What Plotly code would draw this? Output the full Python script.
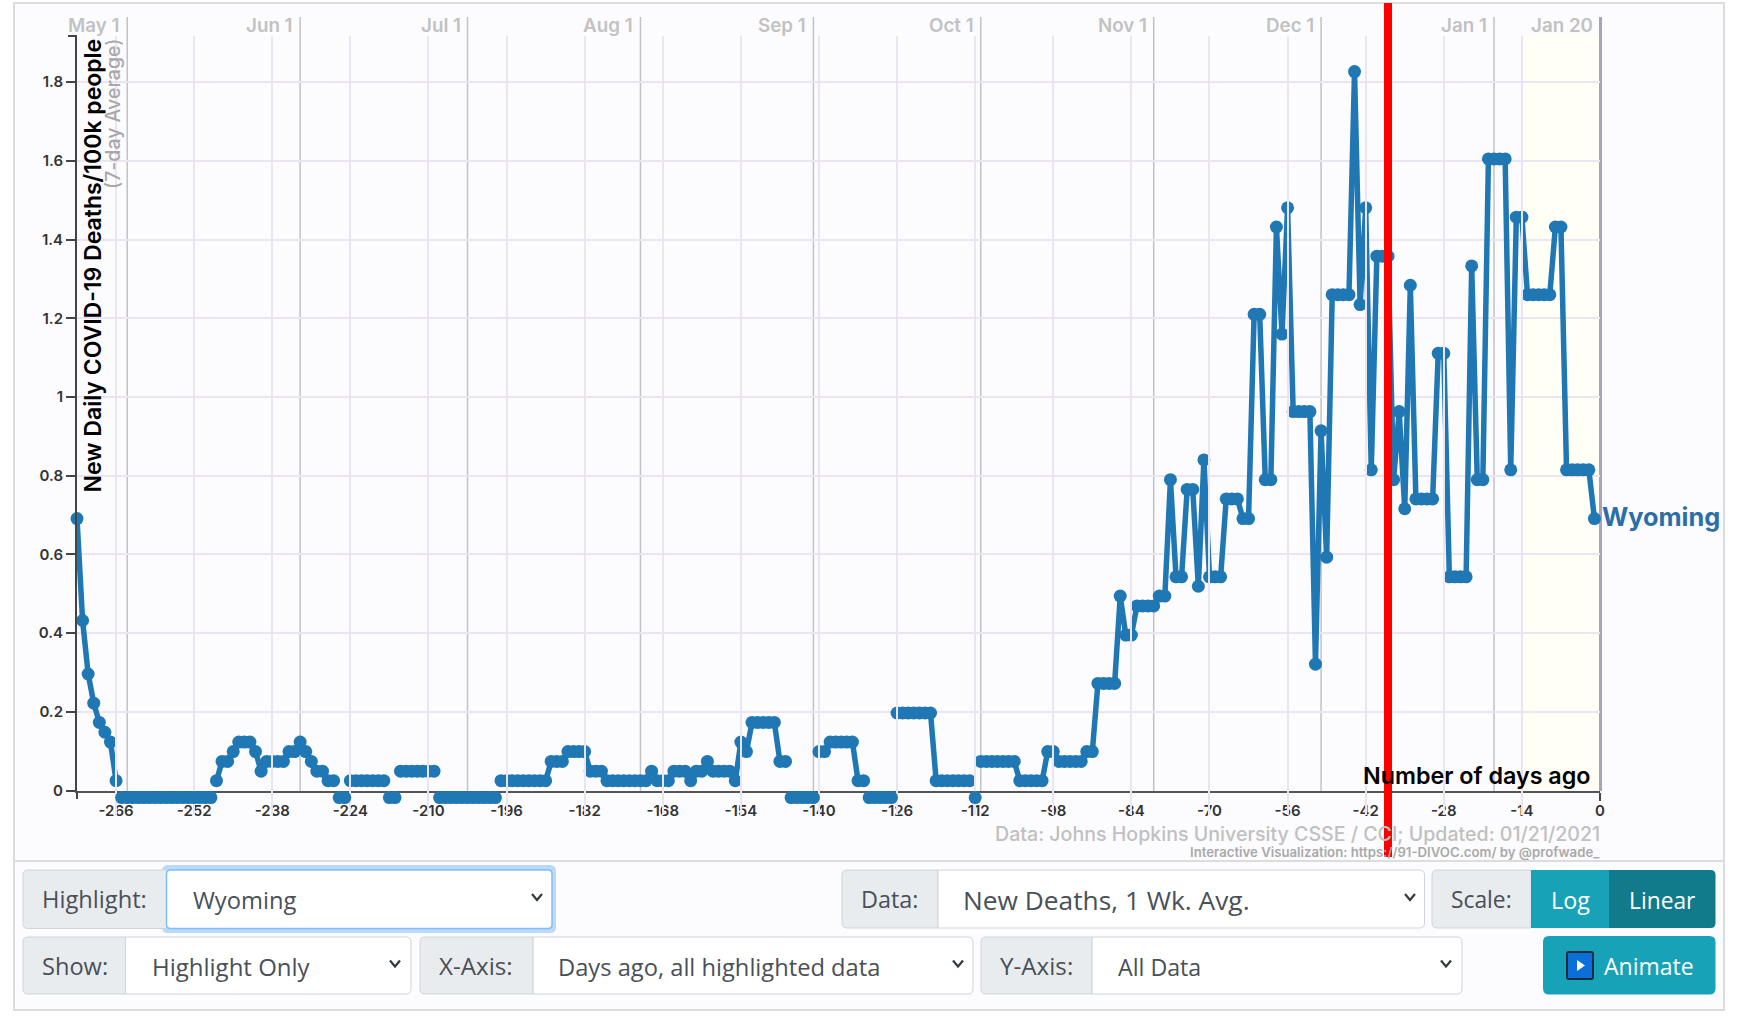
import plotly.graph_objects as go

W, H = 1739, 1018
N = None
first_day = -273
# 7-day average deaths/100k, one value per day from day -273 to day -1. None = zero day (drawn below axis)
values = [
 .691,.432,.296,.222,.173,.148,.123,.025,                       # -273
 N,N,N,N,N,N,N,N,N,N,N,N,N,N,N,N,N,                             # -265
 .025,.074,.074,.099,.123,.123,.123,.099,.049,.074,.074,.074,.074,.099,.099,.123,.099,.074,.049,.049,.025,.025,  # -248
 N,N,                                                           # -226
 .025,.025,.025,.025,.025,.025,.025,                            # -224
 N,N,                                                           # -217
 .049,.049,.049,.049,.049,.049,.049,                            # -215
 N,N,N,N,N,N,N,N,N,N,N,                                         # -208
 .025,.025,.025,.025,.025,.025,.025,.025,.025,                  # -197
 .074,.074,.074,.099,.099,.099,.099,.049,.049,.049,             # -188
 .025,.025,.025,.025,.025,.025,.025,.025,                       # -178
 .049,.025,.025,.025,.049,.049,.049,.025,.049,.049,.074,        # -170
 .049,.049,.049,.049,.025,.123,.099,                            # -159
 .173,.173,.173,.173,.173,.074,.074,                            # -152
 N,N,N,N,N,                                                     # -145
 .099,.099,.123,.123,.123,.123,.123,.025,.025,                  # -140
 N,N,N,N,N,                                                     # -131
 .197,.197,.197,.197,.197,.197,.197,                            # -126
 .025,.025,.025,.025,.025,.025,.025,                            # -119
 N,                                                             # -112
 .074,.074,.074,.074,.074,.074,.074,                            # -111
 .025,.025,.025,.025,.025,.099,.099,                            # -104
 .074,.074,.074,.074,.074,.099,.099,                            # -97
 .272,.272,.272,.272,.494,.395,.395,.469,.469,.469,.469,.494,.494,  # -90
 .79,.543,.543,.765,.765,.519,.84,.543,.543,.543,.741,.741,.741,.691,.691,  # -77
 1.21,1.21,.79,.79,1.432,1.16,1.481,.963,.963,.963,.963,.321,.914,.593,     # -62
 1.26,1.26,1.26,1.26,1.827,1.235,1.481,.815,1.358,1.358,1.358,.79,.963,.716,1.284,  # -48
 .741,.741,.741,.741,1.111,1.111,.543,.543,.543,.543,1.333,.79,.79,         # -33
 1.605,1.605,1.605,1.605,.815,1.457,1.457,1.26,1.26,1.26,1.26,1.26,1.432,1.432,  # -20
 .815,.815,.815,.815,.815,.691,                                 # -6
]
days = [first_day + i for i in range(len(values))]
assert days[-1] == -1, days[-1]
below_axis_value = -0.018
zero_days = [d for d, v in zip(days, values) if v is None]
zero_values = [below_axis_value for _ in zero_days]

x_ticks = [-266,-252,-238,-224,-210,-196,-182,-168,-154,-140,-126,-112,-98,-84,-70,-56,-42,-28,-14,0]
y_ticks = [0,.2,.4,.6,.8,1,1.2,1.4,1.6,1.8]
y_tick_labels = ["0","0.2","0.4","0.6","0.8","1","1.2","1.4","1.6","1.8"]
month_days = [-264,-233,-203,-172,-141,-111,-80,-50,-19,0]
month_labels = ["May 1","Jun 1","Jul 1","Aug 1","Sep 1","Oct 1","Nov 1","Dec 1","Jan 1","Jan 20"]

BLUE = "#1f77b4"
CHART_FONT = "Inter"
UI_FONT = "Open Sans"
BG = "#fcfcff"
GRID = "#ebe5f2"

def px(x): return x / W
def py(y): return 1 - y / H

shapes, annos = [], []

def rect(x0, y0, x1, y1, fill, line=None, lw=0, layer="below"):
    shapes.append(dict(type="rect", xref="paper", yref="paper", x0=px(x0), x1=px(x1), y0=py(y0), y1=py(y1),
                       fillcolor=fill, line=dict(color=line or fill, width=lw), layer=layer))

def rrect(x0, y0, x1, y1, fill, line=None, lw=0, r=(5,5,5,5), layer="above"):
    tl, tr, br, bl = r
    p = f"M{px(x0+tl)},{py(y0)} L{px(x1-tr)},{py(y0)} Q{px(x1)},{py(y0)} {px(x1)},{py(y0+tr)} "
    p += f"L{px(x1)},{py(y1-br)} Q{px(x1)},{py(y1)} {px(x1-br)},{py(y1)} L{px(x0+bl)},{py(y1)} "
    p += f"Q{px(x0)},{py(y1)} {px(x0)},{py(y1-bl)} L{px(x0)},{py(y0+tl)} Q{px(x0)},{py(y0)} {px(x0+tl)},{py(y0)} Z"
    shapes.append(dict(type="path", xref="paper", yref="paper", path=p, fillcolor=fill,
                       line=dict(color=line or fill, width=lw), layer=layer))

def text(x, y, s, size, color, anchor="left", font=UI_FONT, angle=0, weight=None):
    f = dict(family=font, size=size, color=color)
    if weight: f["weight"] = weight
    annos.append(dict(xref="paper", yref="paper", x=px(x), y=py(y), text=s, showarrow=False, xanchor=anchor,
                      yanchor="middle", font=f, textangle=angle, borderpad=0, borderwidth=0))

def chevron(x, y):
    p = f"M{px(x-5)},{py(y-3)} L{px(x)},{py(y+3)} L{px(x+5)},{py(y-3)}"
    shapes.append(dict(type="path", xref="paper", yref="paper", path=p, line=dict(color="#343a40", width=2.2), layer="above"))

def control(x0, x1, x2, y0, y1, label, value, vx, chev, lsize=23.7, vsize=23.7):
    ymid = (y0 + y1) / 2
    rrect(x0, y0, x1, y1, "#e9ecef", "#ced4da", 1, r=(5,0,0,5))
    rrect(x1, y0, x2, y1, "#ffffff", "#ced4da", 1, r=(0,5,5,0))
    text(x0 + 19, ymid, label, lsize, "#495057")
    text(vx, ymid + 1, value, vsize, "#495057")
    chevron(chev, ymid - 2)

# card background and separators
rect(14, 3, 1724, 1010, BG, "#dcdcdc", 2)
shapes.append(dict(type="line", xref="paper", yref="paper", x0=px(14), x1=px(1724), y0=py(861), y1=py(861),
                   line=dict(color="#dcdcdc", width=2), layer="below"))

# highlighted recent fortnight
shapes.append(dict(type="rect", xref="x", yref="paper", x0=-14, x1=0, y0=py(791), y1=py(36),
                   fillcolor="#fffff6", line=dict(width=0), layer="below"))

# month lines
for d, lab in zip(month_days, month_labels):
    if d != 0:
        shapes.append(dict(type="line", xref="x", yref="paper", x0=d, x1=d, y0=py(791), y1=py(17),
                           line=dict(color="#c2c2c6", width=1.5), layer="between"))
    annos.append(dict(xref="x", yref="paper", x=d, y=py(25), text=lab, showarrow=False, xanchor="right", xshift=-5,
                      yanchor="middle", font=dict(family=CHART_FONT, size=18.8, color="#c2c2c2", weight=600)))
# right-hand edge of the chart (today)
shapes.append(dict(type="line", xref="paper", yref="paper", x0=px(1600.5), x1=px(1600.5), y0=py(791), y1=py(17),
                   line=dict(color="#aaa2b8", width=3), layer="between"))

# outer axis ticks
shapes.append(dict(type="line", xref="paper", yref="paper", x0=px(68), x1=px(77), y0=py(36), y1=py(36),
                   line=dict(color="#444", width=2), layer="above"))
shapes.append(dict(type="line", xref="paper", yref="paper", x0=px(77), x1=px(77), y0=py(791), y1=py(799),
                   line=dict(color="#444", width=2), layer="above"))

# chart texts
text(92.5, 266, "New Daily COVID-19 Deaths/100k people", 23, "#000000", "center", CHART_FONT, -90, 600)
text(113, 114, "(7-day Average)", 19.5, "#a8a8a8", "center", CHART_FONT, -90, 500)
text(1591, 775, "Number of days ago", 23.3, "#000000", "right", CHART_FONT, 0, 600)
text(1602, 516, "Wyoming", 25.3, "#2b6ea8", "left", CHART_FONT, 0, 700)
text(1600, 834, "Data: Johns Hopkins University CSSE / CCI; Updated: 01/21/2021", 19.6, "#c0c0c0", "right", CHART_FONT, 0, 500)
text(1600, 852, "Interactive Visualization: https://91-DIVOC.com/ by @profwade_", 13.2, "#a9a9a9", "right", CHART_FONT, 0, 600)

# red marker line
shapes.append(dict(type="line", xref="paper", yref="paper", x0=px(1388), x1=px(1388), y0=py(3), y1=py(857),
                   line=dict(color="#ff0000", width=8), layer="above"))

# controls
rrect(162, 865, 556, 933, "#b9d9fd", r=(6,6,6,6))
control(23, 166.5, 552, 870, 928.5, "Highlight:", "Wyoming", 193, 537)
rrect(166.5, 870, 552, 928.5, "#ffffff", "#80bdff", 1.5, r=(4,4,4,4))
chevron(537, 897)
control(23, 125.5, 411, 937, 994, "Show:", "Highlight Only", 152, 395, 23.6, 24)
control(420, 533, 973, 937, 994, "X-Axis:", "Days ago, all highlighted data", 558, 958, 24.2, 23.7)
control(842, 938, 1424.5, 870, 928, "Data:", "New Deaths, 1 Wk. Avg.", 963, 1410, 23.4, 26.3)
control(981, 1092, 1462, 937, 994, "Y-Axis:", "All Data", 1118, 1446, 24.2, 23.2)

rrect(1432, 870, 1531, 928, "#e9ecef", "#ced4da", 1, r=(5,0,0,5))
text(1451, 899, "Scale:", 22.8, "#495057")
rrect(1531, 870, 1609, 928, "#17a2b8", r=(0,0,0,0))
text(1570, 900, "Log", 23.3, "#ffffff", "center")
rrect(1609, 870, 1715.5, 928, "#117a8b", r=(0,5,5,0))
text(1662, 900, "Linear", 22.8, "#ffffff", "center")

rrect(1543, 936, 1715.5, 994.5, "#17a2b8", r=(6,6,6,6))
rrect(1567, 952, 1593, 979, "#0a6fd6", "#122a44", 2, r=(2,2,2,2))
shapes.append(dict(type="path", xref="paper", yref="paper",
                   path=f"M{px(1577)},{py(960)} L{px(1585)},{py(965.5)} L{px(1577)},{py(971)} Z",
                   fillcolor="#ffffff", line=dict(width=0), layer="above"))
text(1604, 966, "Animate", 23, "#ffffff")

fig = go.Figure()
fig.add_trace(go.Scatter(x=days, y=values, mode="lines+markers", connectgaps=False, cliponaxis=False,
                         line=dict(color=BLUE, width=5.5), marker=dict(color=BLUE, size=13), name="Wyoming",
                         showlegend=False))
fig.add_trace(go.Scatter(x=zero_days, y=zero_values, mode="markers", cliponaxis=False, yaxis="y2",
                         marker=dict(color=BLUE, size=13), showlegend=False))

axis_font = dict(family=CHART_FONT, size=15, color="#333333", weight=600)
per_px = 1 / 393.5
fig.update_layout(
    width=W, height=H, margin=dict(l=0, r=0, t=0, b=0, autoexpand=False), autosize=False,
    paper_bgcolor="#ffffff", plot_bgcolor="rgba(0,0,0,0)",
    shapes=shapes, annotations=annos, showlegend=False,
    xaxis=dict(domain=[px(77), px(1600)], range=[first_day, 0], tickmode="array", tickvals=x_ticks, anchor="y",
               ticktext=[str(t) for t in x_ticks], showgrid=True, gridcolor=GRID, gridwidth=2, zeroline=False,
               showline=True, linecolor="#555", linewidth=2, ticks="outside", ticklen=8, tickwidth=2,
               tickcolor="#444", tickfont=axis_font, ticklabelstandoff=-3),
    yaxis=dict(domain=[py(790.5), py(36)], range=[0, 754.5 * per_px], tickmode="array", tickvals=y_ticks,
               ticktext=y_tick_labels, showgrid=True, gridcolor=GRID, gridwidth=2, zeroline=False,
               showline=True, linecolor="#444", linewidth=2, ticks="outside", ticklen=9, tickwidth=2,
               tickcolor="#444", tickfont=axis_font),
    yaxis2=dict(domain=[py(815), py(36)], range=[-24.5 * per_px, 754.5 * per_px], visible=False, anchor="x",
                showgrid=False, zeroline=False),
)
fig.write_html("out.html", config=dict(displayModeBar=False),
               post_script="document.body.style.margin='0';document.body.style.overflow='hidden';")
